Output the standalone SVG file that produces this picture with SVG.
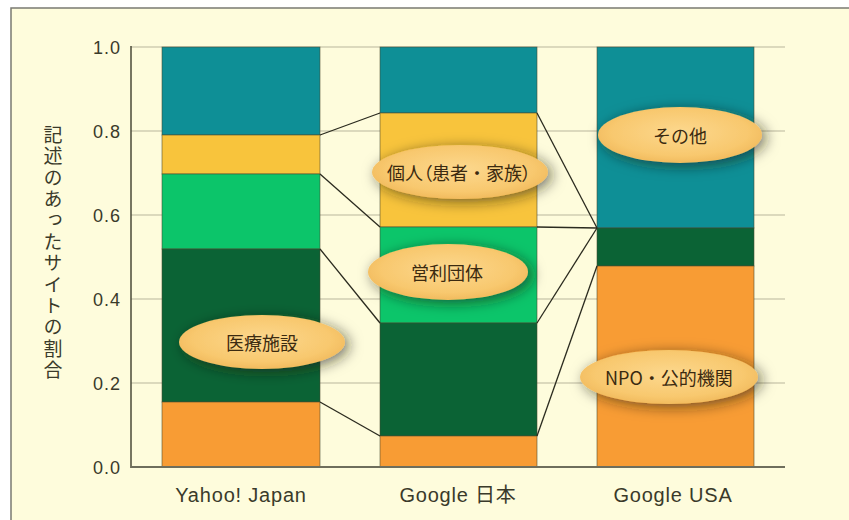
<svg xmlns="http://www.w3.org/2000/svg" width="849" height="520" viewBox="0 0 849 520">
<defs>
<style>
.grid{stroke:#b9b69c;stroke-width:1}
.conn{stroke:#2a2a1e;stroke-width:1.3;fill:none}
.seg{stroke:#4a4a30;stroke-width:0.8;stroke-opacity:0.7}
.teal{fill:#0e8f96}
.yel{fill:#f8c43c}
.lg{fill:#0cc56a}
.dg{fill:#0b6335}
.or{fill:#f89c34}
.tick{font-family:"Liberation Sans",Arial,sans-serif;font-size:18px;fill:#3a3a2a;text-anchor:end;letter-spacing:1px}
.cat{font-family:"Liberation Sans","Noto Sans CJK JP",sans-serif;font-size:20px;fill:#3a3a2a;text-anchor:middle;letter-spacing:0.8px}
.lab{font-family:"Noto Sans CJK JP",sans-serif;font-size:18px;fill:#3b2a10;text-anchor:middle;dominant-baseline:central}
.palt{font-feature-settings:"palt"}
.ell{fill:url(#eg);filter:url(#sh)}
</style>
<radialGradient id="eg" cx="0.5" cy="0.45" r="0.6">
<stop offset="0" stop-color="#fcd88e"/>
<stop offset="0.7" stop-color="#f8c86e"/>
<stop offset="1" stop-color="#efb658"/>
</radialGradient>
<filter id="sh" x="-30%" y="-60%" width="160%" height="220%">
<feDropShadow dx="4" dy="3" stdDeviation="7" flood-color="#1a1a10" flood-opacity="0.6"/>
</filter>
</defs>
<rect x="0" y="0" width="849" height="520" fill="#ffffff"/>
<rect x="11" y="8" width="845" height="520" fill="#fefcdc" stroke="#7a7a72" stroke-width="1.5"/>

<g id="grid">
<line class="grid" x1="131" y1="47" x2="785" y2="47"/>
<line class="grid" x1="131" y1="131" x2="785" y2="131"/>
<line class="grid" x1="131" y1="215" x2="785" y2="215"/>
<line class="grid" x1="131" y1="299" x2="785" y2="299"/>
<line class="grid" x1="131" y1="383" x2="785" y2="383"/>
</g>

<g id="bar-yahoo">
<rect class="teal seg" x="162" y="47" width="158" height="88"/>
<rect class="yel seg" x="162" y="135" width="158" height="39"/>
<rect class="lg seg" x="162" y="174" width="158" height="75"/>
<rect class="dg seg" x="162" y="249" width="158" height="153"/>
<rect class="or seg" x="162" y="402" width="158" height="65"/>
</g>
<g id="bar-google-jp">
<rect class="teal seg" x="380" y="47" width="157" height="66"/>
<rect class="yel seg" x="380" y="113" width="157" height="114"/>
<rect class="lg seg" x="380" y="227" width="157" height="96"/>
<rect class="dg seg" x="380" y="323" width="157" height="113"/>
<rect class="or seg" x="380" y="436" width="157" height="31"/>
</g>
<g id="bar-google-usa">
<rect class="teal seg" x="597" y="47" width="157" height="181"/>
<rect class="dg seg" x="597" y="228" width="157" height="38"/>
<rect class="or seg" x="597" y="266" width="157" height="201"/>
</g>

<g id="connectors">
<line class="conn" x1="320" y1="135" x2="380" y2="113"/>
<line class="conn" x1="320" y1="174" x2="380" y2="227"/>
<line class="conn" x1="320" y1="249" x2="380" y2="323"/>
<line class="conn" x1="320" y1="402" x2="380" y2="436"/>
<line class="conn" x1="537" y1="113" x2="597" y2="228"/>
<line class="conn" x1="537" y1="227" x2="597" y2="228"/>
<line class="conn" x1="537" y1="323" x2="597" y2="228"/>
<line class="conn" x1="537" y1="436" x2="597" y2="266"/>
</g>

<g id="axes">
<line x1="131" y1="46" x2="131" y2="468" stroke="#4a4a38" stroke-width="1.5"/>
<line x1="131" y1="467" x2="785" y2="467" stroke="#6e6e5c" stroke-width="2"/>
<text class="tick" x="121" y="54">1.0</text>
<text class="tick" x="121" y="138">0.8</text>
<text class="tick" x="121" y="222">0.6</text>
<text class="tick" x="121" y="306">0.4</text>
<text class="tick" x="121" y="390">0.2</text>
<text class="tick" x="121" y="474">0.0</text>
<text x="53" y="125" writing-mode="tb" font-family="Noto Sans CJK JP, sans-serif" font-size="19" letter-spacing="2.4" fill="#3a3a2a">記述のあったサイトの割合</text>
<text class="cat" x="241" y="502">Yahoo! Japan</text>
<text class="cat" x="458" y="502">Google 日本</text>
<text class="cat" x="673" y="502">Google USA</text>
</g>

<g id="label-kojin">
<ellipse class="ell" cx="460" cy="172" rx="88" ry="27"/>
<text class="lab" x="459" y="172"><tspan class="palt">個人（</tspan>患者・家族<tspan class="palt">）</tspan></text>
</g>
<g id="label-eiri">
<ellipse class="ell" cx="448" cy="272" rx="80" ry="28"/>
<text class="lab" x="447" y="272" font-size="19">営利団体</text>
</g>
<g id="label-sonota">
<ellipse class="ell" cx="680" cy="135" rx="82" ry="28"/>
<text class="lab" x="680" y="135" font-size="19">その他</text>
</g>
<g id="label-iryo">
<ellipse class="ell" cx="262" cy="342" rx="83" ry="27"/>
<text class="lab" x="262" y="342" font-size="19">医療施設</text>
</g>
<g id="label-npo">
<ellipse class="ell" cx="669" cy="377" rx="89" ry="27"/>
<text class="lab" x="669" y="377" font-size="19">NPO・公的機関</text>
</g>
</svg>
